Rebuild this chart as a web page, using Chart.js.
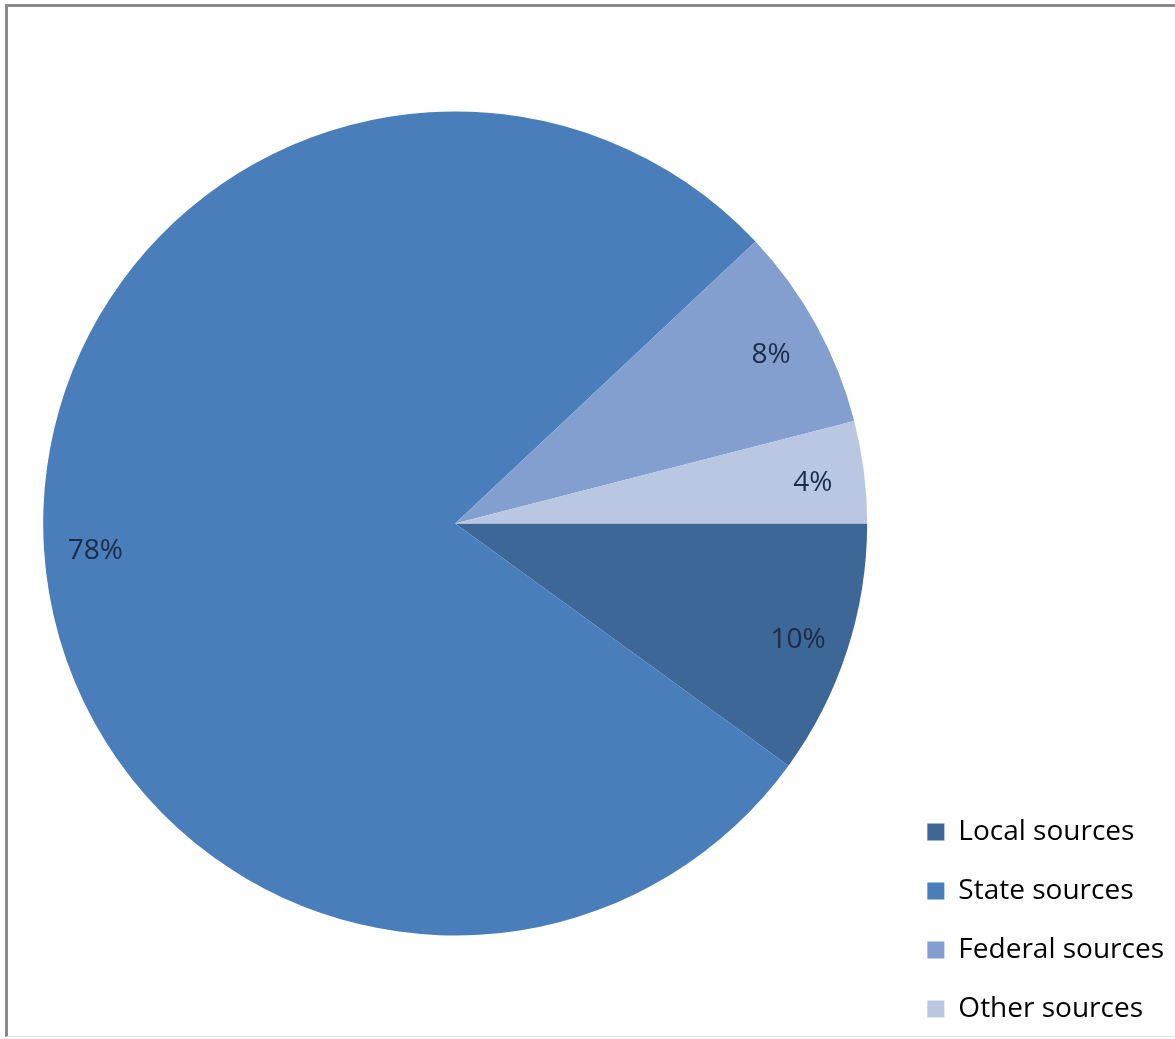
<!DOCTYPE html>
<html>
<head>
<meta charset="utf-8">
<script src="https://cdn.jsdelivr.net/npm/chart.js@4.4.0/dist/chart.umd.min.js"></script>
<style>
  html, body { margin: 0; padding: 0; background: #fff; }
  .frame {
    position: absolute; left: 5px; top: 4px; width: 1170px; height: 1029px;
    border-top: 3px solid #8a8a8a; border-left: 3px solid #8a8a8a;
    border-bottom: 1px solid #e2e2e2;
  }
  .wrap { position: absolute; left: 0; top: 0; width: 1175px; height: 1039px; }
</style>
</head>
<body>
<div class="frame"></div>
<div class="wrap"><canvas id="pie"></canvas></div>
<script>
// data
const categories = ['Local sources', 'State sources', 'Federal sources', 'Other sources'];
const shares = [10, 78, 8, 4];
const sliceColors = ['#3d6797', '#4a7ebb', '#829fcf', '#b9c7e3'];

// percent labels drawn near the outer edge of each slice
const pctLabels = {
  id: 'pctLabels',
  afterDatasetsDraw(chart) {
    const ctx = chart.ctx;
    const meta = chart.getDatasetMeta(0);
    const data = chart.data.datasets[0].data;
    const total = data.reduce((a, b) => a + b, 0);
    ctx.save();
    ctx.font = '28px "Open Sans"';
    ctx.fillStyle = '#1c2b47';
    ctx.textAlign = 'center';
    ctx.textBaseline = 'middle';
    meta.data.forEach((arc, i) => {
      const p = arc.getProps(['x', 'y', 'startAngle', 'endAngle', 'outerRadius'], true);
      const mid = (p.startAngle + p.endAngle) / 2;
      const r = p.outerRadius * 0.875;
      ctx.fillText(Math.round(data[i] / total * 100) + '%', p.x + Math.cos(mid) * r, p.y + Math.sin(mid) * r + 5);
    });
    ctx.restore();
  }
};

const ctx = document.getElementById('pie');

new Chart(ctx, {
  type: 'pie',
  data: {
    labels: categories,
    datasets: [{
      data: shares,
      backgroundColor: sliceColors,
      borderWidth: 0,
      radius: 412
    }]
  },
  options: {
    responsive: true,
    maintainAspectRatio: false,
    animation: false,
    rotation: 90,
    layout: {
      padding: { left: 14, right: 1, top: 8, bottom: -15 }
    },
    plugins: {
      tooltip: { enabled: false },
      legend: {
        position: 'right',
        align: 'end',
        labels: {
          boxWidth: 17,
          boxHeight: 17,
          padding: 31,
          color: '#000',
          font: { family: '"Open Sans"', size: 28 }
        }
      }
    }
  },
  plugins: [pctLabels]
});
</script>
</body>
</html>
